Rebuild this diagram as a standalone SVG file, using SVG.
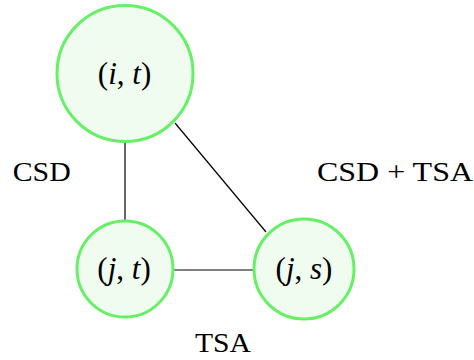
<svg xmlns="http://www.w3.org/2000/svg" width="474" height="360" viewBox="0 0 474 360">
<style>
.node{fill:#f0fcf0;stroke:#66f066;stroke-width:3}
.edge{stroke:#000;stroke-width:1.2;fill:none}
.lbl{font-family:"Liberation Serif","DejaVu Serif",serif;font-size:27px;fill:#000}
.math{font-family:"Liberation Serif","DejaVu Serif",serif;font-size:31px;fill:#000;text-anchor:middle}
.it{font-style:italic}
</style>
<rect width="474" height="360" fill="#fff"/>
<g id="edges">
<line class="edge" x1="125" y1="142" x2="125" y2="222"/>
<line class="edge" x1="174" y1="270" x2="254" y2="270"/>
<line class="edge" x1="175" y1="123" x2="266" y2="232"/>
</g>
<g id="node-it">
<circle class="node" cx="125" cy="73.5" r="68"/>
<text class="math" x="124.5" y="84">(<tspan class="it">i</tspan>, <tspan class="it">t</tspan>)</text>
</g>
<g id="node-jt">
<circle class="node" cx="125" cy="269" r="48"/>
<text class="math" x="124" y="279">(<tspan class="it">j</tspan>, <tspan class="it">t</tspan>)</text>
</g>
<g id="node-js">
<circle class="node" cx="304" cy="269" r="50"/>
<text class="math" x="304" y="279">(<tspan class="it">j</tspan>, <tspan class="it">s</tspan>)</text>
</g>
<g id="labels">
<text class="lbl" x="12.7" y="181" textLength="58" lengthAdjust="spacingAndGlyphs">CSD</text>
<text class="lbl" x="317" y="181" textLength="156" lengthAdjust="spacingAndGlyphs">CSD + TSA</text>
<text class="lbl" x="195" y="352" textLength="56" lengthAdjust="spacingAndGlyphs">TSA</text>
</g>
</svg>
